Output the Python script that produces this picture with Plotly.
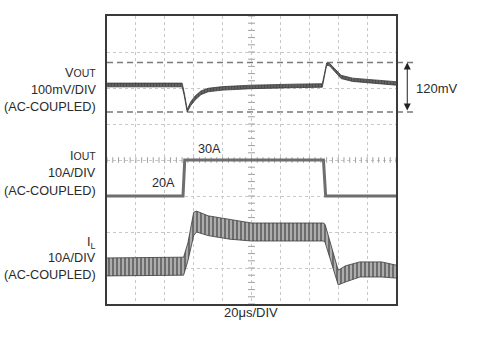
import numpy as np
import plotly.graph_objects as go

# ---------------- data ----------------
# time axis in microseconds (20 us/div, 10 divisions)
t_vout = [0, 52, 53.5, 55.5, 58, 61, 65, 70, 80, 100, 130, 149, 150.5, 152, 154, 158, 162, 170, 185, 200]
# VOUT ripple envelope (mV, AC-coupled)
vout_hi = [10, 10, -14, -54, -35, -21, -9, -2.5, 1.5, 5, 7.5, 8.5, 33, 59, 58, 43, 29, 22, 17, 13.5]
vout_lo = [1, 1, -21, -60, -44, -31, -18, -11, -7, -3.5, -1, 0, 27, 53, 52, 36, 21, 14, 9, 5]

# load current step (A)
t_iout = [0, 52.6, 53.8, 149.8, 151.3, 200]
iout = [20, 20, 30, 30, 20, 20]

# inductor current ripple envelope (A)
t_il = [0, 52, 53, 56, 60, 62, 70, 85, 100, 130, 150, 151, 155.5, 160, 165, 175, 190, 200]
il_hi = [22.8, 22.8, 23, 27, 35.5, 35.8, 34.5, 33.5, 32.5, 32.5, 32.5, 32, 26, 19.4, 20.6, 21.7, 21.7, 20.8]
il_lo = [17.8, 17.8, 18, 22, 29, 30, 29, 28, 27.5, 27.5, 27.5, 27, 21, 15.3, 16.1, 17.5, 17.5, 17.2]

vout_limits = [60, -60]          # the 120mV window
vout_zero, iout_zero, il_zero = 5, 20, 20

FONT = "Liberation Sans, Arial, sans-serif"
TXT = "#2b2b2b"

fig = go.Figure()

# VOUT band
fig.add_trace(go.Scatter(x=t_vout, y=vout_lo, yaxis="y2", mode="lines",
                         line=dict(color="#3a3a3a", width=0.8), hoverinfo="skip"))
fig.add_trace(go.Scatter(x=t_vout, y=vout_hi, yaxis="y2", mode="lines", fill="tonexty",
                         fillcolor="rgba(255,255,255,0)",
                         fillpattern=dict(shape="|", fgcolor="#2e2e2e", bgcolor="#6e6e6e",
                                          size=3, solidity=0.6),
                         line=dict(color="#3a3a3a", width=0.8), hoverinfo="skip"))

# IOUT
fig.add_trace(go.Scatter(x=t_iout, y=iout, yaxis="y3", mode="lines",
                         line=dict(color="#6e6e6e", width=3), hoverinfo="skip"))

# IL band
fig.add_trace(go.Scatter(x=t_il, y=il_lo, yaxis="y4", mode="lines",
                         line=dict(color="#3a3a3a", width=0.8), hoverinfo="skip"))
fig.add_trace(go.Scatter(x=t_il, y=il_hi, yaxis="y4", mode="lines", fill="tonexty",
                         fillcolor="rgba(255,255,255,0)",
                         fillpattern=dict(shape="|", fgcolor="#262626", bgcolor="#b4b4b4",
                                          size=4, solidity=0.55),
                         line=dict(color="#3a3a3a", width=0.8), hoverinfo="skip"))

# centre-line tick marks (graticule decoration)
vt = np.arange(0, 8.01, 0.2)
fig.add_trace(go.Scatter(x=[100] * len(vt), y=vt, mode="markers",
                         marker=dict(symbol="line-ew", size=5, line=dict(color="#a0a0a0", width=1)),
                         hoverinfo="skip"))
ht = np.arange(0, 200.1, 4)
fig.add_trace(go.Scatter(x=ht, y=[4] * len(ht), mode="markers",
                         marker=dict(symbol="line-ns", size=4, line=dict(color="#a0a0a0", width=1)),
                         hoverinfo="skip"))

# zero-level markers on the left edge
for ax, val in (("y2", vout_zero), ("y3", iout_zero), ("y4", il_zero)):
    fig.add_trace(go.Scatter(x=[-2.6], y=[val], yaxis=ax, mode="markers", cliponaxis=False,
                             marker=dict(symbol="triangle-right", size=5, color="#333333"),
                             hoverinfo="skip"))

# dashed 120mV window lines
for v in vout_limits:
    fig.add_shape(type="line", xref="paper", yref="y2", x0=0, x1=1.069, y0=v, y1=v,
                  line=dict(color="#7a7a7a", width=1.5, dash="6px,4px"), layer="below")

# double arrow
fig.add_annotation(xref="x domain", yref="y2", x=1.039, y=vout_limits[0],
                   axref="x domain", ayref="y2", ax=1.039, ay=vout_limits[1],
                   text="", showarrow=True, arrowside="end+start",
                   arrowhead=2, arrowsize=1.4, arrowwidth=1, arrowcolor="#222222", standoff=0,
                   startstandoff=0, startarrowhead=2, startarrowsize=1.4)
fig.add_annotation(xref="paper", yref="y2", x=1.064, y=sum(vout_limits) / 2 - 3, text="120mV",
                   showarrow=False, xanchor="left", font=dict(size=13, color=TXT, family=FONT))

# left labels
def left(text, py):
    fig.add_annotation(xref="paper", yref="paper", x=-0.031, y=(304 - py) / 288, text=text,
                       showarrow=False, xanchor="right", yanchor="middle",
                       font=dict(size=12.7, color=TXT, family=FONT))

SMALL = "<span style='font-size:10.5px'>%s</span>"
left("V" + SMALL % "OUT", 73)
left("100mV/DIV", 89.5)
left("(AC-COUPLED)", 106.5)
left("I" + SMALL % "OUT", 156)
left("10A/DIV", 173)
left("(AC-COUPLED)", 191)
left("I<sub>L</sub>", 243)
left("10A/DIV", 257.5)
left("(AC-COUPLED)", 274.5)

# trace labels
fig.add_annotation(xref="paper", yref="paper", x=(209 - 107) / 289, y=(304 - 149) / 288, text="30A",
                   showarrow=False, font=dict(size=12.7, color=TXT, family=FONT))
fig.add_annotation(xref="paper", yref="paper", x=(150 - 107) / 289, y=(304 - 183) / 288, text="20A",
                   showarrow=False, font=dict(size=12.7, color=TXT, family=FONT))
fig.add_annotation(xref="paper", yref="paper", x=(251 - 107) / 289, y=(304 - 322) / 288, text="20μs/DIV",
                   showarrow=False, font=dict(size=13, color=TXT, family=FONT))

grid = dict(showgrid=True, gridcolor="#c8c8c8", griddash="dot", gridwidth=1, zeroline=False,
            showticklabels=False, ticks="", showline=True, mirror=True, linecolor="#3a3a3a", linewidth=2)

fig.update_layout(
    width=499, height=340, margin=dict(l=107, r=103, t=16, b=36),
    paper_bgcolor="white", plot_bgcolor="white", showlegend=False,
    xaxis=dict(range=[0, 200], dtick=20, **grid),
    yaxis=dict(range=[0, 8], dtick=1, **grid),
    yaxis2=dict(range=[-525.5, 172.7], overlaying="y", visible=False),
    yaxis3=dict(range=[-10, 70], overlaying="y", visible=False),
    yaxis4=dict(range=[10, 90], overlaying="y", visible=False),
)

fig.write_html("out.html")
